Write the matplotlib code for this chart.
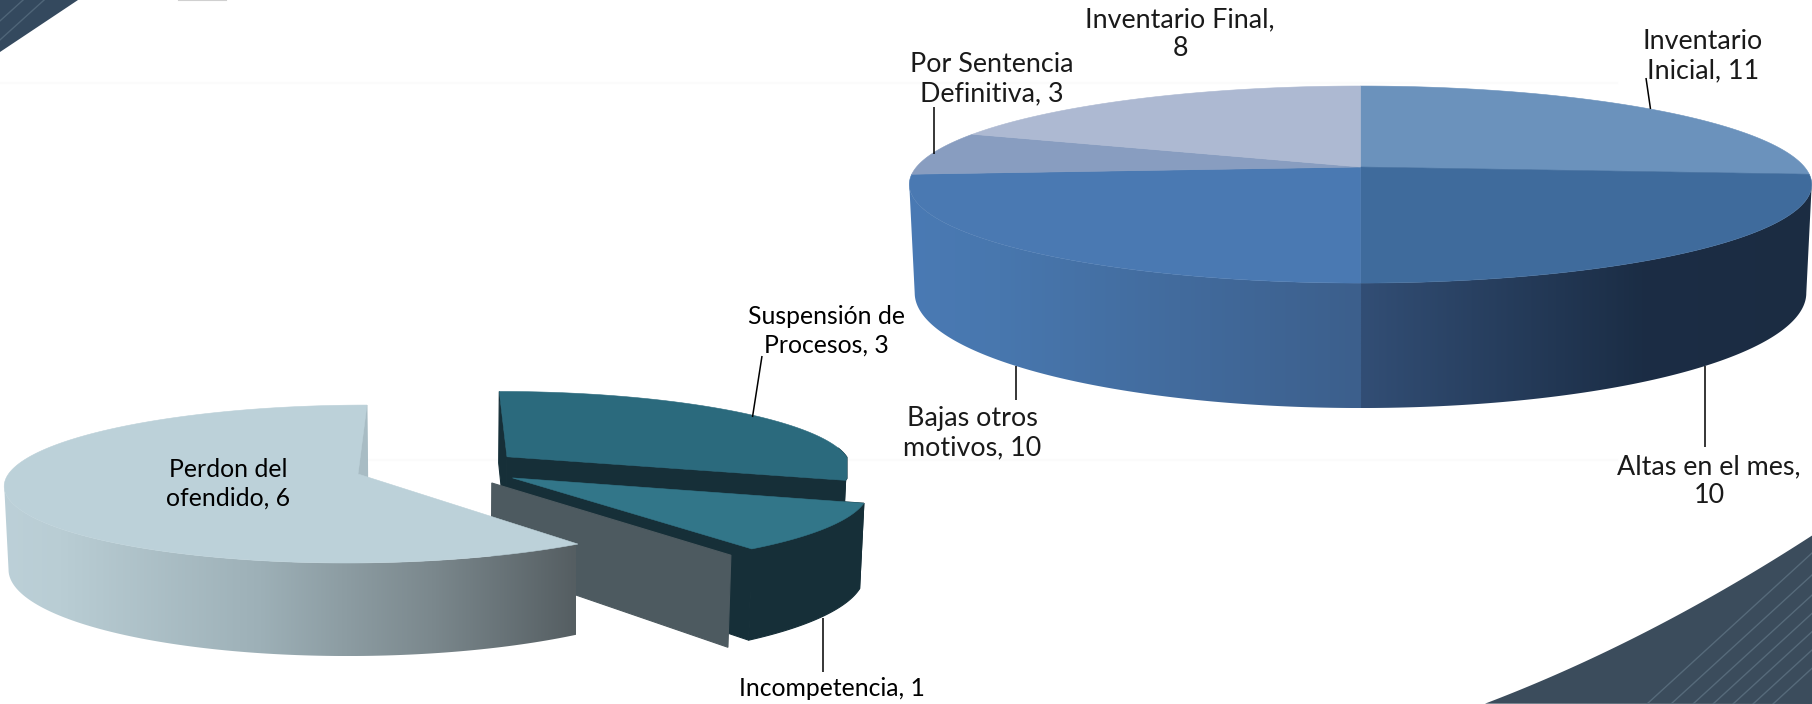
#!/usr/bin/env python3

import numpy as np
import matplotlib
matplotlib.use('Agg')
import matplotlib.pyplot as plt
from matplotlib.colors import LinearSegmentedColormap
from matplotlib.patches import Polygon

# chart data
labels_right = ['Inventario\nInicial, 11', 'Altas en el mes,\n10', 'Bajas otros\nmotivos, 10',
                'Por Sentencia\nDefinitiva, 3', 'Inventario Final,\n8']
values_right = [11, 10, 10, 3, 8]
labels_left = ['Perdon del\nofendido, 6', 'Suspensión de\nProcesos, 3', 'Incompetencia, 1']
values_left = [6, 3, 1]

W, H = 1812, 704

fig = plt.figure(figsize=(W/100, H/100), dpi=100)
ax = fig.add_axes([0, 0, 1, 1])
ax.set_axis_off()


def angles(vals, start=0.0):
    # clockwise degrees from 12 o'clock
    edges = np.cumsum([0] + list(vals)) / sum(vals) * 360 + start
    return edges


class Pie:
    # perspective ellipse: top and bottom rim have their own tilt
    def __init__(self, cx, vx, rx, k, top, bottom, sb):
        self.cx, self.vx, self.rx, self.k = cx, vx, rx, k
        self.top, self.bottom, self.sb = top, bottom, sb

    def pt(self, X, Yn, level):
        # X in px on the ground plane, Yn in radius units, + is toward the viewer
        w = 1 - self.k*Yn
        y0, a = self.top if level == 0 else self.bottom
        s = 1 if level == 0 else self.sb
        return np.column_stack([self.vx + (X - self.vx)*s/w, y0 + a*Yn/w])

    def rim(self, a0, a1, off=(0, 0), level=0, n=200):
        t = np.radians(np.linspace(a0, a1, n))
        return self.pt(self.cx + off[0] + self.rx*np.sin(t), off[1] - np.cos(t), level)

    def apex(self, off=(0, 0), level=0):
        return self.pt(np.array([self.cx + off[0]]), np.array([off[1]]), level)

    def top_face(self, a0, a1, color, off=(0, 0), z=2, xmax=None):
        pts = np.vstack([self.apex(off), self.rim(a0, a1, off)])
        if xmax is not None:
            pts[:, 0] = np.minimum(pts[:, 0], xmax)
        ax.add_patch(Polygon(pts, closed=True, fc=color, ec=color, lw=0.4, zorder=z))

    def side_pts(self, a0, a1, off=(0, 0), trim=None):
        # trim cuts the wall at the silhouette so the outline stays straight
        up = self.rim(a0, a1, off)
        lo = self.rim(a0, a1, off, 1)
        if trim == 'left':
            up = up[:np.argmin(up[:, 0])+1]
            lo = lo[:np.argmin(lo[:, 0])+1]
        elif trim == 'right':
            up = up[np.argmax(up[:, 0]):]
            lo = lo[np.argmax(lo[:, 0]):]
        return np.vstack([up, lo[::-1]])

    def spoke_pts(self, a, off=(0, 0)):
        return np.vstack([self.apex(off), self.rim(a, a, off, 0, 1),
                          self.rim(a, a, off, 1, 1), self.apex(off, 1)])

    def flat(self, pts, color, z=1, xmax=None):
        if xmax is not None:
            pts = pts.copy()
            pts[:, 0] = np.minimum(pts[:, 0], xmax)
        ax.add_patch(Polygon(pts, closed=True, fc=color, ec=color, lw=0.8, zorder=z))


def gradient_fill(pts, stops, x0, x1, z=1):
    # horizontal gradient clipped to the side wall of a slice
    cmap = LinearSegmentedColormap.from_list('g', stops)
    grad = np.linspace(0, 1, 256).reshape(1, -1)
    ys = pts[:, 1]
    im = ax.imshow(grad, extent=[x0, x1, ys.max(), ys.min()], cmap=cmap, vmin=0, vmax=1,
                   aspect='auto', interpolation='bilinear', zorder=z)
    patch = Polygon(pts, closed=True, transform=ax.transData, fc='none', ec='none')
    ax.add_patch(patch)
    im.set_clip_path(patch)


# right pie
right = Pie(1360.5, 1360.5, 444, 0.178, (167, 95.4), (272.5, 111.4), 0.988)
ang = angles(values_right)
top_colors_right = ['#6b92bc', '#3f6b9c', '#4a79b2', '#889dc0', '#adb9d2']
gradient_fill(right.side_pts(ang[2] - 1, ang[3], trim='left'),
              [(0, '#4a7ab4'), (0.2, '#4877ae'), (1, '#3c5f8c')], 909, 1360.5, 1)
gradient_fill(right.side_pts(ang[1], ang[2], trim='right'),
              [(0, '#324e75'), (0.62, '#1b2d45'), (1, '#1c2c42')], 1360.5, 1812, 1.5)
for i in range(5):
    right.top_face(ang[i], ang[i+1], top_colors_right[i])

# left pie, two slices are pulled out
left = Pie(358, 437, 349.5, 0.127, (474, 77.7), (555.8, 87.5), 0.99)
ang = angles(values_left, 144)
off_susp = (151, -0.228)
off_inc = (154, 0.05)
off_wall = (133, 0.114)
dark = '#162f38'

a_susp0, a_susp1 = ang[1] - 360, ang[2] - 360
a_inc0, a_inc1 = ang[2] - 360, ang[3] - 360

left.flat(left.spoke_pts(a_susp0, off_susp), dark, 3)
left.flat(left.spoke_pts(a_susp1, off_susp), dark, 3, xmax=847)
left.flat(left.side_pts(a_susp1 - 25, a_susp1, off_susp), dark, 3, xmax=847)
left.top_face(a_susp0, a_susp1, '#2b6a7d', off_susp, 4, xmax=847)

left.flat(left.spoke_pts(a_inc0, off_inc), dark, 5)
left.flat(left.spoke_pts(a_inc1, off_inc), dark, 5)
left.flat(left.side_pts(a_inc0, a_inc1, off_inc), dark, 5)
left.top_face(a_inc0, a_inc1, '#327689', off_inc, 6)

# grey wall behind the big slice
left.flat(left.spoke_pts(a_inc1, off_wall), '#4d5a60', 7)

left.flat(left.spoke_pts(ang[1]), '#a8bcc4', 8)
gradient_fill(left.side_pts(ang[0], ang[1], trim='left'),
              [(0, '#bcd0d8'), (0.1, '#b9cdd4'), (0.45, '#9db0b7'), (0.75, '#7b888d'), (1, '#555e62')],
              3, 576, 8)
left.top_face(ang[0], ang[1], '#bcd1d9', z=9)

# leader lines
leaders = [((1646, 78), (1650.5, 109)), ((933.5, 107), (933.5, 154)), ((1015.5, 366), (1015.5, 400)),
           ((1705, 366), (1705, 447)), ((762, 356), (752.5, 417)), ((822.6, 618), (822.6, 672))]
for p, q in leaders:
    ax.plot([p[0], q[0]], [p[1], q[1]], color='black', lw=1.1, zorder=10, solid_capstyle='butt')

# labels
pos_right = [(1703, 56), (1709, 481), (972, 433), (992, 79), (1180, 34)]
for lab, p in zip(labels_right, pos_right):
    ax.text(p[0], p[1], lab, ha='center', va='center', family='Lato', fontsize=19.4,
            color='#1a1a1a', linespacing=1.19, zorder=11)
pos_left = [(228, 484), (826, 331), (832, 689)]
for lab, p in zip(labels_left, pos_left):
    ax.text(p[0], p[1], lab, ha='center', va='center', family='Lato', fontsize=17.8,
            color='black', linespacing=1.265, zorder=11)

# slide background: corners and faint frame
ax.add_patch(Polygon([(0, 0), (78, 0), (0, 52)], closed=True, fc='#34495e', ec='none', zorder=0))
for d in [22, 42]:
    ax.plot([0, d*1.05], [d*0.95, 0], color='#4f6578', lw=1.0, zorder=0)
ax.plot([178, 226], [0.2, 0.2], color='#d0d0d0', lw=0.8, zorder=0)
ax.plot([0, 1617], [83, 83], color='#fbfbfb', lw=1.5, zorder=0)
ax.plot([367, 1617], [460, 460], color='#fbfbfb', lw=1.5, zorder=0)

edge_fit = np.polyfit([1485, 1617, 1717, 1812], [704, 645, 595, 535], 2)
edge_x = np.linspace(1485, 1812, 60)
edge_y = np.polyval(edge_fit, edge_x)
ax.add_patch(Polygon(np.vstack([np.column_stack([edge_x, edge_y]), [[1812, 704]]]), closed=True,
                     fc='#3b4c5c', ec='none', zorder=0))
for d in [0, 24, 46, 66, 86, 106, 126]:
    ax.plot([1647 + d, 1812 + d], [704, 553], color='#566a7a', lw=1.0, zorder=0)

ax.set_xlim(0, W)
ax.set_ylim(H, 0)

plt.savefig('out.png', dpi=100, facecolor='white')
